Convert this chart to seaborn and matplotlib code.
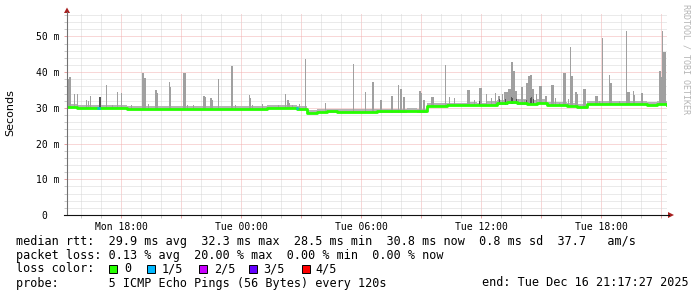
import numpy as np
import pandas as pd
import matplotlib
matplotlib.use("Agg")
import matplotlib.pyplot as plt
import matplotlib.dates as mdates
import matplotlib.ticker as mticker
from matplotlib.lines import Line2D
from matplotlib.patches import Polygon, Rectangle
import seaborn as sns

# ---------------- data ----------------
START = "2025-12-15 15:17:27"
END = "2025-12-16 21:17:27"
DAYS = {"Mon": "2025-12-15", "Tue": "2025-12-16"}

# median rtt (ms), one value per 30 minutes from START
MEDIAN = [30.3, 30.0, 30.0, 29.9, 29.9, 29.9, 29.8, 29.8, 29.7, 29.7,
          29.8, 29.7, 29.7, 29.7, 29.8, 29.7, 29.7, 29.8, 29.8, 29.8,
          29.9, 30.1, 30.0, 29.6, 28.7, 28.8, 29.0, 28.9, 28.9, 28.9,
          28.9, 29.0, 29.0, 29.0, 29.1, 29.0, 30.5, 30.6, 30.7, 30.7,
          30.8, 30.7, 30.9, 31.3, 31.6, 31.4, 31.2, 31.5, 30.8, 30.8,
          30.6, 30.3, 31.0, 31.0, 31.1, 31.0, 31.0, 31.0, 30.9, 31.0,
          30.8]
# typical smoke envelope (ms), one value per 30 minutes
SMOKE_HI = [31.0, 30.8, 30.8, 30.7, 30.7, 30.7, 30.6, 30.6, 30.5, 30.5,
            30.6, 30.5, 30.5, 30.5, 30.6, 30.5, 30.5, 30.6, 30.6, 30.6,
            30.7, 30.9, 30.8, 30.4, 29.5, 29.6, 29.8, 29.7, 29.7, 29.7,
            29.7, 29.8, 29.8, 29.8, 29.9, 29.8, 31.3, 31.4, 31.5, 31.5,
            31.6, 31.5, 31.8, 32.3, 32.6, 32.4, 32.2, 32.5, 31.6, 31.6,
            31.4, 31.1, 31.8, 31.8, 31.9, 31.8, 31.8, 31.8, 31.7, 31.8,
            31.6]
SMOKE_LO = [30.0, 29.7, 29.7, 29.6, 29.6, 29.6, 29.5, 29.5, 29.4, 29.4,
            29.5, 29.4, 29.4, 29.4, 29.5, 29.4, 29.4, 29.5, 29.5, 29.5,
            29.6, 29.8, 29.7, 29.3, 28.4, 28.5, 28.7, 28.6, 28.6, 28.6,
            28.6, 28.7, 28.7, 28.7, 28.8, 28.7, 30.2, 30.3, 30.4, 30.4,
            30.5, 30.4, 30.6, 30.8, 31.0, 30.9, 30.8, 31.0, 30.5, 30.5,
            30.3, 30.0, 30.7, 30.7, 30.8, 30.7, 30.7, 30.7, 30.6, 30.7,
            30.5]

# max ping of single 3-minute steps (ms)
SPIKES = [
    ("Mon 15:17", 38.0), ("Mon 15:20", 38.0), ("Mon 15:23", 38.6), ("Mon 15:26", 38.6),
    ("Mon 15:38", 33.9), ("Mon 15:47", 33.9), ("Mon 16:14", 32.2), ("Mon 16:20", 32.0),
    ("Mon 16:26", 33.4), ("Mon 16:53", 33.1), ("Mon 16:56", 33.1), ("Mon 17:14", 36.4),
    ("Mon 17:32", 30.9), ("Mon 17:47", 34.5), ("Mon 17:59", 34.2), ("Mon 18:29", 30.9),
    ("Mon 19:02", 39.9), ("Mon 19:05", 39.9), ("Mon 19:08", 38.3), ("Mon 19:11", 38.3),
    ("Mon 19:20", 31.0), ("Mon 19:41", 35.0), ("Mon 19:44", 35.0), ("Mon 19:47", 34.3),
    ("Mon 20:23", 37.3), ("Mon 20:26", 35.9), ("Mon 21:05", 39.9), ("Mon 21:08", 39.9),
    ("Mon 21:11", 39.9), ("Mon 21:17", 30.8), ("Mon 21:35", 30.8), ("Mon 22:05", 33.4),
    ("Mon 22:08", 33.4), ("Mon 22:11", 33.0), ("Mon 22:26", 32.8), ("Mon 22:29", 32.8),
    ("Mon 22:32", 32.3), ("Mon 22:50", 38.1), ("Mon 23:29", 41.8), ("Mon 23:32", 41.8),
    ("Mon 23:41", 30.8), ("Tue 00:23", 33.6), ("Tue 00:26", 32.7), ("Tue 00:32", 30.9),
    ("Tue 01:02", 31.0), ("Tue 01:50", 30.9), ("Tue 02:11", 33.9), ("Tue 02:17", 32.2),
    ("Tue 02:20", 32.2), ("Tue 02:23", 31.5), ("Tue 02:32", 30.9), ("Tue 02:53", 31.0),
    ("Tue 03:11", 43.7), ("Tue 04:11", 31.5), ("Tue 05:35", 42.3), ("Tue 06:11", 34.5),
    ("Tue 06:32", 37.3), ("Tue 06:35", 37.3), ("Tue 06:56", 32.2), ("Tue 06:59", 32.2),
    ("Tue 07:29", 33.4), ("Tue 07:32", 33.4), ("Tue 07:50", 36.4), ("Tue 07:56", 35.2),
    ("Tue 07:59", 35.2), ("Tue 08:05", 33.1), ("Tue 08:08", 33.1), ("Tue 08:53", 34.7),
    ("Tue 08:56", 34.7), ("Tue 08:59", 34.2), ("Tue 09:05", 32.2), ("Tue 09:08", 32.2),
    ("Tue 09:29", 33.1), ("Tue 09:32", 33.1), ("Tue 09:35", 33.1), ("Tue 10:11", 42.0),
    ("Tue 10:23", 33.0), ("Tue 10:38", 32.8), ("Tue 11:17", 35.0), ("Tue 11:20", 35.0),
    ("Tue 11:23", 35.0), ("Tue 11:38", 32.3), ("Tue 11:53", 35.7), ("Tue 11:56", 35.7),
    ("Tue 11:59", 35.7), ("Tue 12:14", 33.9), ("Tue 12:29", 32.8), ("Tue 12:41", 34.3),
    ("Tue 12:50", 33.4), ("Tue 12:53", 33.4), ("Tue 13:02", 33.9), ("Tue 13:08", 34.5),
    ("Tue 13:11", 34.5), ("Tue 13:14", 34.5), ("Tue 13:17", 34.5), ("Tue 13:20", 35.4),
    ("Tue 13:23", 35.4), ("Tue 13:26", 35.4), ("Tue 13:29", 42.9), ("Tue 13:32", 42.9),
    ("Tue 13:35", 40.2), ("Tue 13:38", 40.2), ("Tue 13:41", 34.6), ("Tue 13:44", 34.6),
    ("Tue 13:50", 32.5), ("Tue 13:59", 35.8), ("Tue 14:02", 35.8), ("Tue 14:08", 32.2),
    ("Tue 14:14", 37.0), ("Tue 14:17", 37.0), ("Tue 14:20", 38.8), ("Tue 14:23", 38.8),
    ("Tue 14:26", 39.2), ("Tue 14:29", 39.2), ("Tue 14:32", 35.4), ("Tue 14:35", 35.4),
    ("Tue 14:44", 33.9), ("Tue 14:53", 36.1), ("Tue 14:56", 36.1), ("Tue 14:59", 36.1),
    ("Tue 15:05", 31.5), ("Tue 15:11", 33.3), ("Tue 15:14", 33.3), ("Tue 15:29", 36.4),
    ("Tue 15:32", 36.4), ("Tue 15:35", 36.4), ("Tue 15:41", 32.8), ("Tue 15:53", 31.5),
    ("Tue 16:05", 39.9), ("Tue 16:08", 39.9), ("Tue 16:11", 39.9), ("Tue 16:20", 32.5),
    ("Tue 16:26", 47.1), ("Tue 16:29", 38.9), ("Tue 16:32", 38.9), ("Tue 16:41", 34.5),
    ("Tue 16:44", 34.5), ("Tue 16:47", 33.8), ("Tue 17:05", 35.3), ("Tue 17:08", 35.3),
    ("Tue 17:11", 35.3), ("Tue 17:23", 31.4), ("Tue 17:41", 33.3), ("Tue 17:44", 33.3),
    ("Tue 17:47", 33.3), ("Tue 17:53", 31.8), ("Tue 18:02", 49.7), ("Tue 18:14", 31.5),
    ("Tue 18:23", 39.2), ("Tue 18:26", 37.1), ("Tue 18:29", 37.1), ("Tue 18:53", 32.0),
    ("Tue 19:14", 51.5), ("Tue 19:17", 34.5), ("Tue 19:20", 34.5), ("Tue 19:23", 34.5),
    ("Tue 19:35", 34.7), ("Tue 19:38", 33.6), ("Tue 19:47", 31.2), ("Tue 19:59", 34.2),
    ("Tue 20:02", 34.2), ("Tue 20:23", 31.2), ("Tue 20:53", 40.2), ("Tue 20:56", 40.2),
    ("Tue 20:59", 38.6), ("Tue 21:02", 51.5), ("Tue 21:05", 45.7), ("Tue 21:08", 45.7),
    ("Tue 21:11", 45.7),
]
# steps where several pings were high (darker smoke)
DARK = [("Mon 16:53", 33.1), ("Mon 16:56", 33.1), ("Tue 11:53", 32.0), ("Tue 12:53", 32.6),
        ("Tue 13:11", 32.4), ("Tue 13:29", 33.0), ("Tue 13:32", 32.8), ("Tue 13:44", 32.5),
        ("Tue 14:14", 32.3), ("Tue 14:26", 32.9), ("Tue 14:29", 33.1), ("Tue 14:35", 32.4)]
# steps with 1/5 packet loss
LOSS_1_5 = ["Mon 16:47", "Mon 16:50", "Mon 16:53", "Tue 02:44", "Tue 02:47"]

LOSS_LABELS = ["0", "1/5", "2/5", "3/5", "4/5"]
LOSS_COLORS = ["#26ff00", "#00b8ff", "#c800ff", "#6400ff", "#ff0000"]
Y_TICKS = [0, 10, 20, 30, 40, 50]

LINE1 = "median rtt:  29.9 ms avg  32.3 ms max  28.5 ms min  30.8 ms now  0.8 ms sd  37.7   am/s"
LINE2 = "packet loss: 0.13 % avg  20.00 % max  0.00 % min  0.00 % now"
LINE3 = "loss color:"
LINE4 = "probe:       5 ICMP Echo Pings (56 Bytes) every 120s"
END_TEXT = "end: Tue Dec 16 21:17:27 2025"

# ---------------- helpers ----------------
W, H = 697, 297
def fx(x): return x / W
def fy(y): return 1 - y / H

def tnum(s):
    d, hm = s.split()
    return mdates.date2num(pd.Timestamp(f"{DAYS[d]} {hm}").to_pydatetime())

t0 = mdates.date2num(pd.Timestamp(START).to_pydatetime())
t1 = mdates.date2num(pd.Timestamp(END).to_pydatetime())
half = 30 / 1440
step = 3 / 1440
tgrid = t0 + half * np.arange(len(MEDIAN))
text_ = np.append(tgrid, t1)
def ext(a): return np.append(np.asarray(a, float), a[-1])
def lookup(arr, t):
    i = int(np.clip(np.searchsorted(tgrid, t, side="right") - 1, 0, len(arr) - 1))
    return arr[i]

plt.rcParams["font.family"] = ["DejaVu Sans Mono"]
fig = plt.figure(figsize=(W / 100, H / 100), dpi=100)
fig.patch.set_facecolor("white")
ax = fig.add_axes([fx(67), fy(215), 600 / W, (215 - 14) / H])
ax.set_facecolor("white")

# smoke band
ax.fill_between(text_, ext(SMOKE_LO), ext(SMOKE_HI), step="post",
                color="#b4b4b4", lw=0, zorder=2)
# spikes
sx = np.array([tnum(s) for s, _ in SPIKES])
sv = np.array([v for _, v in SPIKES])
sb = np.array([lookup(SMOKE_LO, t) for t in sx])
ax.bar(sx, sv - sb, bottom=sb, width=step, align="edge", color="#a0a0a0",
       lw=0, zorder=3, antialiased=False)
dx = np.array([tnum(s) for s, _ in DARK])
dv = np.array([v for _, v in DARK])
db = np.array([lookup(SMOKE_LO, t) for t in dx])
ax.bar(dx, dv - db, bottom=db, width=step, align="edge", color="#555555",
       lw=0, zorder=4, antialiased=False)

# median line
df = pd.DataFrame({"t": text_, "rtt": ext(MEDIAN)})
sns.lineplot(data=df, x="t", y="rtt", ax=ax, color=LOSS_COLORS[0], lw=2.0,
             drawstyle="steps-post", estimator=None, sort=False, zorder=5)
for s in LOSS_1_5:
    t = tnum(s)
    ax.hlines(lookup(MEDIAN, t), t, t + step, color=LOSS_COLORS[1], lw=2.0, zorder=6)

ax.set_xlim(t0, t1)
ax.set_ylim(0, 56.3)
ax.set_xlabel("")
ax.set_ylabel("")

# grid and ticks
ax.xaxis.set_major_locator(mdates.HourLocator(byhour=range(0, 24, 3)))
ax.xaxis.set_minor_locator(mdates.HourLocator())
def xfmt(x, pos):
    d = mdates.num2date(x)
    return d.strftime("%a %H:%M") if d.hour % 6 == 0 else ""
ax.xaxis.set_major_formatter(mticker.FuncFormatter(xfmt))
ax.yaxis.set_major_locator(mticker.FixedLocator(Y_TICKS))
ax.yaxis.set_major_formatter(mticker.FixedFormatter(
    [("0  " if v == 0 else f"{v} m") for v in Y_TICKS]))
ax.yaxis.set_minor_locator(mticker.MultipleLocator(2))
ax.set_axisbelow(True)
ax.grid(which="minor", color="#d6d6d6", lw=0.72, ls=(0, (1, 1)))
ax.grid(which="major", color="#f2b0b0", lw=0.72, ls=(0, (1, 1)))
ax.tick_params(which="both", direction="out", labelsize=7, length=2.2, width=0.7,
               pad=3.2, color="#c8c8c8")
ax.tick_params(which="major", color="#e8a0a0")
for sp in ax.spines.values():
    sp.set_visible(False)

# axes lines and arrows
fig.add_artist(Line2D([fx(67), fx(67)], [fy(215), fy(12)], color="#707070", lw=0.8))
fig.add_artist(Line2D([fx(64), fx(669)], [fy(215), fy(215)], color="#111111", lw=0.8))
fig.add_artist(Polygon([(fx(64), fy(13)), (fx(70), fy(13)), (fx(67), fy(7.5))],
                       closed=True, color="#a82020", lw=0))
fig.add_artist(Polygon([(fx(668), fy(212)), (fx(668), fy(218)), (fx(674), fy(215))],
                       closed=True, color="#a82020", lw=0))

# texts
fig.text(fx(10), fy(113), "Seconds", rotation=90, ha="center", va="center",
         fontsize=8, family=["DejaVu Sans"])
fig.text(fx(686), fy(4), "RRDTOOL / TOBI OETIKER", rotation=270, ha="center",
         va="top", fontsize=6, color="#b4b4b4")
fs = 8.5
fig.text(fx(16), fy(241), LINE1, ha="left", va="center", fontsize=fs)
fig.text(fx(16), fy(255), LINE2, ha="left", va="center", fontsize=fs)
fig.text(fx(16), fy(269), LINE3, ha="left", va="center", fontsize=fs)
fig.text(fx(16), fy(283), LINE4, ha="left", va="center", fontsize=fs)
fig.text(fx(689), fy(283), END_TEXT, ha="right", va="center", fontsize=fs)
box_x = [109, 147, 199, 249, 302]
lab_x = [124, 162, 214, 263, 315]
for bx, lx, lab, col in zip(box_x, lab_x, LOSS_LABELS, LOSS_COLORS):
    fig.add_artist(Rectangle((fx(bx), fy(273)), 8 / W, 8 / H, facecolor=col,
                             edgecolor="black", lw=0.7))
    fig.text(fx(lx), fy(269), lab, ha="left", va="center", fontsize=fs)

fig.savefig("out.png", dpi=100, facecolor="white")
